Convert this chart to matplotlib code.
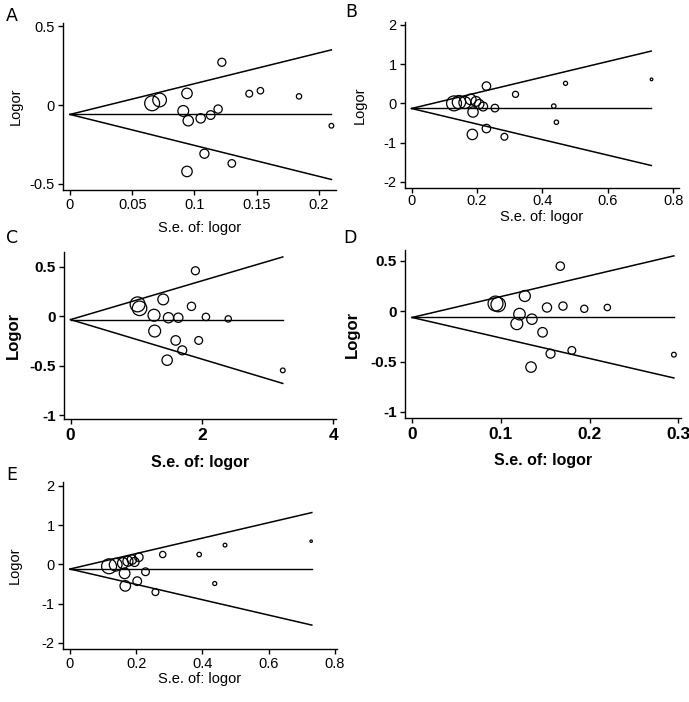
import numpy as np
import matplotlib
matplotlib.use("Agg")
import matplotlib.pyplot as plt

plt.rcParams["font.family"] = ["Liberation Sans", "DejaVu Sans"]
plt.rcParams["axes.unicode_minus"] = False

# -----------------------
# Data
# -----------------------
a_se = [0.066, 0.072, 0.094, 0.091, 0.095, 0.105, 0.113, 0.119, 0.122,
        0.144, 0.153, 0.184, 0.210, 0.108, 0.130, 0.094]
a_logor = [0.011, 0.032, 0.074, -0.038, -0.100, -0.085, -0.064, -0.026, 0.272,
           0.072, 0.091, 0.055, -0.132, -0.310, -0.372, -0.423]

b_se = [0.130, 0.145, 0.163, 0.181, 0.197, 0.207, 0.219, 0.188, 0.229,
        0.255, 0.186, 0.229, 0.284, 0.318, 0.435, 0.443, 0.471, 0.734]
b_logor = [0.00, 0.03, 0.02, 0.10, 0.05, -0.02, -0.08, -0.22, 0.44,
           -0.12, -0.79, -0.64, -0.85, 0.23, -0.07, -0.48, 0.51, 0.61]

c_se = [1.02, 1.05, 1.27, 1.41, 1.49, 1.64, 1.28, 1.60, 1.70, 1.47,
        1.84, 1.90, 1.95, 2.06, 2.40, 3.23]
c_logor = [0.12, 0.08, 0.01, 0.17, -0.015, -0.015, -0.15, -0.245, -0.345, -0.445,
           0.10, 0.46, -0.245, -0.007, -0.027, -0.548]

d_se = [0.094, 0.097, 0.127, 0.121, 0.118, 0.135, 0.134, 0.152, 0.147,
        0.167, 0.170, 0.156, 0.180, 0.194, 0.220, 0.295]
d_logor = [0.075, 0.065, 0.15, -0.03, -0.125, -0.08, -0.555, 0.036, -0.21,
           0.446, 0.05, -0.422, -0.39, 0.023, 0.036, -0.432]

e_se = [0.118, 0.138, 0.160, 0.175, 0.187, 0.195, 0.208, 0.165, 0.167,
        0.203, 0.228, 0.258, 0.280, 0.390, 0.437, 0.468, 0.728]
e_logor = [-0.05, -0.01, 0.03, 0.08, 0.12, 0.06, 0.18, -0.23, -0.55,
           -0.43, -0.19, -0.71, 0.25, 0.25, -0.49, 0.49, 0.59]

# pooled estimate and pseudo 95% limits at the end of the funnel
pooled = {"A": -0.060, "B": -0.130, "C": -0.034, "D": -0.063, "E": -0.120}
se_end = {"A": 0.210, "B": 0.733, "C": 3.23, "D": 0.295, "E": 0.730}
upper_end = {"A": 0.351, "B": 1.33, "C": 0.600, "D": 0.548, "E": 1.32}
lower_end = {"A": -0.474, "B": -1.58, "C": -0.680, "D": -0.663, "E": -1.55}

xticks = {"A": [0, 0.05, 0.1, 0.15, 0.2], "B": [0, 0.2, 0.4, 0.6, 0.8],
          "C": [0, 2, 4], "D": [0, 0.1, 0.2, 0.3], "E": [0, 0.2, 0.4, 0.6, 0.8]}
yticks = {"A": [-0.5, 0, 0.5], "B": [-2, -1, 0, 1, 2],
          "C": [-1, -0.5, 0, 0.5], "D": [-1, -0.5, 0, 0.5], "E": [-2, -1, 0, 1, 2]}

panels = {"A": (a_se, a_logor), "B": (b_se, b_logor), "C": (c_se, c_logor),
          "D": (d_se, d_logor), "E": (e_se, e_logor)}

# -----------------------
# Layout (pixel boxes: left, right, top, bottom) and limits
# -----------------------
W, H = 689, 702
boxes = {"A": (63, 336, 23, 190), "B": (405, 679, 22, 187.5),
         "C": (64, 336, 252, 419), "D": (405, 681, 250, 418),
         "E": (63, 337, 482, 649)}
xlims = {"A": (-0.0056, 0.2137), "B": (-0.020, 0.818), "C": (-0.10, 4.04),
         "D": (-0.008, 0.303), "E": (-0.021, 0.806)}
ylims = {"A": (-0.541, 0.522), "B": (-2.14, 2.07), "C": (-1.04, 0.65),
         "D": (-1.06, 0.606), "E": (-2.16, 2.10)}
letter_pos = {"A": (12, 16), "B": (351, 12), "C": (12, 238),
              "D": (350, 238), "E": (12, 475)}
# right edge of the rotated y label, top edge of the x label (pixels)
ylab_right = {"A": 23, "B": 367, "C": 21, "D": 360, "E": 22}
xlab_top = {"A": 221, "B": 210, "C": 455, "D": 453, "E": 672}
xtick_pad = {"A": 2.5, "B": 1.5, "C": 3, "D": 3, "E": 2.5}
bold = {"A": False, "B": False, "C": True, "D": True, "E": False}


def fmt(v):
    return f"{v:g}"


fig = plt.figure(figsize=(W / 100, H / 100), dpi=100, facecolor="white")

S_MAX = 115

for key, (se, lo) in panels.items():
    l, r, t, b = boxes[key]
    ax = fig.add_axes([l / W, 1 - b / H, (r - l) / W, (b - t) / H])
    se = np.array(se)
    lo = np.array(lo)
    is_bold = bold[key]
    weight = "bold" if is_bold else "normal"

    # funnel lines
    th = pooled[key]
    ax.plot([0, se_end[key]], [th, th], color="black", lw=1.0)
    ax.plot([0, se_end[key]], [th, upper_end[key]], color="black", lw=1.1)
    ax.plot([0, se_end[key]], [th, lower_end[key]], color="black", lw=1.1)

    # study markers, area proportional to 1/se^2
    sizes = S_MAX * (se.min() / se) ** 2
    ax.scatter(se, lo, s=sizes, facecolors="none", edgecolors="black",
               linewidths=0.9, zorder=3, clip_on=False)

    ax.set_xlim(*xlims[key])
    ax.set_ylim(*ylims[key])
    ax.set_xticks(xticks[key])
    ax.set_xticklabels([fmt(v) for v in xticks[key]])
    ax.set_yticks(yticks[key])
    ax.set_yticklabels([fmt(v) for v in yticks[key]])

    for sp in ["top", "right"]:
        ax.spines[sp].set_visible(False)
    for sp in ["left", "bottom"]:
        ax.spines[sp].set_linewidth(1.0)

    ax.tick_params(direction="out", length=3.5, width=1.0, pad=2.5,
                   labelsize=10.5)
    ax.tick_params(axis="x", pad=xtick_pad[key])
    if is_bold:
        ax.tick_params(axis="x", labelsize=12.5)
        ax.tick_params(axis="y", labelsize=11)
    for lab in ax.get_xticklabels() + ax.get_yticklabels():
        lab.set_fontweight(weight)

    ax.set_xlabel("S.e. of: logor", fontsize=11.5 if is_bold else 10.5,
                  fontweight=weight)
    ax.xaxis.set_label_coords(0.5, (b - xlab_top[key]) / (b - t))
    ax.set_ylabel("Logor", fontsize=12 if is_bold else 10.5,
                  fontweight=weight)
    ax.yaxis.set_label_coords((ylab_right[key] - l) / (r - l), 0.5)

    lx, ly = letter_pos[key]
    fig.text(lx / W, 1 - ly / H, key, fontsize=12.5, ha="center",
             va="center", family=["Liberation Sans Narrow", "DejaVu Sans"])

plt.savefig("out.png", dpi=100, facecolor="white")
plt.close()
